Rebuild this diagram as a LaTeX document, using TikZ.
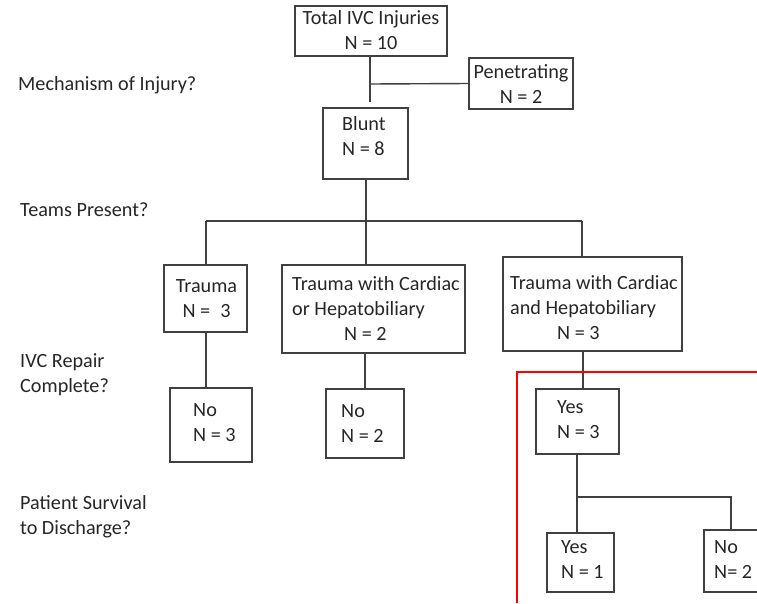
\documentclass[tikz,border=0pt]{standalone}
\usepackage{fontspec}
\setmainfont{Carlito}
\usetikzlibrary{positioning}

\begin{document}
\begin{tikzpicture}[x=1pt,y=-1pt,
  box/.style={draw=black!75,line width=1.4pt,inner sep=0pt},
  txt/.style={font=\fontsize{20.2}{25}\selectfont,inner sep=0pt,text=black!85},
  lnk/.style={draw=black!75,line width=1.4pt}
]
\useasboundingbox (0,0) rectangle (757,603);
\clip (0,0) rectangle (757,603);
% boxes
\node[box,minimum width=152,minimum height=50] (total) at (371,31) {};
\node[box,minimum width=104,minimum height=51] (pen) at (521,83.5) {};
\node[box,minimum width=85,minimum height=71] (blunt) at (365.5,143.5) {};
\node[box,minimum width=83,minimum height=67] (trauma) at (205.5,298.5) {};
\node[box,minimum width=183,minimum height=88] (cmid) at (373.5,309) {};
\node[box,minimum width=179,minimum height=94] (cand) at (592.5,304) {};
\node[box,minimum width=82,minimum height=74] (no1) at (211,425) {};
\node[box,minimum width=78,minimum height=69] (no2) at (365,423.5) {};
\node[box,minimum width=83,minimum height=65] (yes) at (577.5,421.5) {};
\node[box,minimum width=67,minimum height=59] (yes2) at (580.5,562.5) {};
\node[box,minimum width=66,minimum height=62] (no3) at (737,561) {};
% box texts
\node[txt,align=center] (total-t) at (371,30.5) {Total IVC Injuries\\N = 10};
\node[txt,align=center] (pen-t) at (521,84.5) {Penetrating\\N = 2};
\node[txt,align=left,anchor=west] (blunt-t) at (342,136) {Blunt\\N = 8};
\node[txt,align=center] (trauma-t) at (206.5,298.5) {Trauma\\N =\enspace3};
\node[txt,align=left,anchor=west] (cmid-t) at (292,308) {Trauma with Cardiac\\or Hepatobiliary\\\hspace*{52pt}N = 2};
\node[txt,align=left,anchor=west] (cand-t) at (510,307.5) {Trauma with Cardiac\\and Hepatobiliary\\\hspace*{47pt}N = 3};
\node[txt,align=left,anchor=west] (no1-t) at (193,423) {No\\N = 3};
\node[txt,align=left,anchor=west] (no2-t) at (341,424) {No\\N = 2};
\node[txt,align=left,anchor=west] (yes-t) at (557,420) {Yes\\N = 3};
\node[txt,align=left,anchor=west] (yes2-t) at (561,559.5) {Yes\\N = 1};
\node[txt,align=left,anchor=west] (no3-t) at (714,559.5) {No\\N= 2};
% question labels
\node[txt,anchor=west] (q-mech) at (18,85) {Mechanism of Injury?};
\node[txt,anchor=west] (q-teams) at (20,210) {Teams Present?};
\node[txt,align=left,anchor=west] (q-ivc) at (20,374.5) {IVC Repair\\Complete?};
\node[txt,align=left,anchor=west] (q-surv) at (20,516.5) {Patient Survival\\to Discharge?};
% connectors
\coordinate (mech) at (370,84);
\coordinate (mechEnd) at (370,102);
\draw[lnk] (mech |- total.south) -- (mechEnd);
\draw[lnk] (mech) -- (pen.west);
\coordinate (tbus) at (366,221);
\coordinate (tbusL) at (206,221);
\coordinate (tbusR) at (582,221);
\draw[lnk] (blunt.south -| tbus) -- (tbus);
\draw[lnk] (tbusL) -- (tbusR);
\draw[lnk] (tbusL) -- (tbusL |- trauma.north);
\draw[lnk] (tbus) -- (tbus |- cmid.north);
\draw[lnk] (tbusR) -- (tbusR |- cand.north);
\coordinate (lj) at (206,0);
\coordinate (mj) at (365,0);
\coordinate (rj) at (583,0);
\draw[lnk] (lj |- trauma.south) -- (lj |- no1.north);
\draw[lnk] (mj |- cmid.south) -- (mj |- no2.north);
\draw[lnk] (rj |- cand.south) -- (rj |- yes.north);
\coordinate (sbus) at (577,497);
\coordinate (sj) at (731,0);
\draw[lnk] (yes.south -| sbus) -- (sbus |- yes2.north);
\draw[lnk] (sbus) -| (sj |- no3.north);
% highlighted branch
\draw[red,line width=1.5pt] (517,603) |- (757,372);
\end{tikzpicture}
\end{document}
